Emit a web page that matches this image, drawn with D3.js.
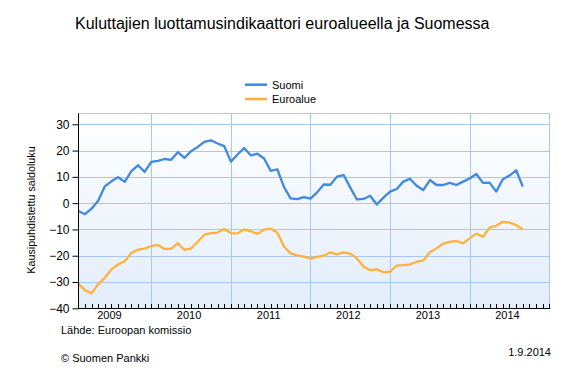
<!DOCTYPE html>
<html>
<head>
<meta charset="utf-8">
<script src="https://cdn.jsdelivr.net/npm/d3@7"></script>
<style>
  html, body { margin: 0; padding: 0; background: #ffffff; }
  svg { display: block; font-family: "Liberation Sans", Arial, sans-serif; }
</style>
</head>
<body>
<svg id="chart" width="567" height="378"></svg>
<script>
// ---- data (monthly, Jan 2009 .. Aug 2014) ----
const yearLabels = ["2009", "2010", "2011", "2012", "2013", "2014"];
const yTicks = [30, 20, 10, 0, -10, -20, -30, -40];
const seriesNames = ["Suomi", "Euroalue"];
const suomi = [
  -3.0, -4.2, -2.1, 0.9, 6.4, 8.3, 9.9, 8.1, 12.2, 14.4, 11.9, 15.7,
  16.1, 16.8, 16.5, 19.4, 17.2, 19.8, 21.4, 23.3, 23.9, 22.7, 21.7, 15.8,
  18.5, 21.0, 18.2, 18.8, 17.0, 12.3, 12.9, 6.2, 1.8, 1.5, 2.3, 1.7,
  4.1, 7.1, 7.0, 10.1, 10.7, 5.9, 1.4, 1.6, 2.8, -0.5, 2.1, 4.4,
  5.4, 8.2, 9.3, 6.6, 5.0, 8.8, 6.9, 6.9, 7.7, 6.9, 8.2, 9.4,
  11.1, 7.7, 7.8, 4.4, 9.1, 10.5, 12.5, 6.3
];
const euroalue = [
  -30.6, -33.1, -34.3, -30.8, -28.4, -25.2, -23.3, -22.1, -19.0, -17.7, -17.3, -16.3,
  -15.9, -17.4, -17.4, -15.2, -17.8, -17.2, -14.7, -12.0, -11.4, -11.2, -9.8, -11.4,
  -11.5, -10.0, -10.7, -11.7, -10.1, -9.7, -11.2, -16.5, -19.1, -19.9, -20.3, -21.0,
  -20.4, -20.0, -18.7, -19.5, -18.7, -19.2, -21.0, -24.2, -25.5, -25.2, -26.3, -26.1,
  -23.8, -23.6, -23.3, -22.3, -21.8, -18.7, -17.2, -15.4, -14.7, -14.4, -15.3, -13.4,
  -11.6, -12.8, -9.3, -8.6, -7.1, -7.4, -8.3, -10.0
];
const colors = ["#3f88e4", "#ffb13d"];
const titleText = "Kuluttajien luottamusindikaattori euroalueella ja Suomessa";
const yTitle = "Kausipuhdistettu saldoluku";
const sourceText = "Lähde: Euroopan komissio";
const copyText = "© Suomen Pankki";
const dateText = "1.9.2014";

// ---- layout ----
const svg = d3.select("#chart");
const L = 78.3, R = 549.3, T = 113.3, B = 308.3;
const nMonths = 72; // Jan 2009 .. Dec 2014
const x = d3.scaleLinear().domain([0, nMonths - 1]).range([L, R]);
const y = d3.scaleLinear().domain([-40, 30]).range([B, 124.3]);

// background gradient
const defs = svg.append("defs");
const grad = defs.append("linearGradient").attr("id", "bg").attr("x1", 0).attr("y1", 0).attr("x2", 0).attr("y2", 1);
grad.append("stop").attr("offset", "0%").attr("stop-color", "#ffffff");
grad.append("stop").attr("offset", "100%").attr("stop-color", "#e2edfa");
svg.append("rect").attr("x", L).attr("y", T).attr("width", R - L).attr("height", B - T).attr("fill", "url(#bg)");

const gridColor = "#a6c8f2";
// horizontal grid
svg.append("g").selectAll("line").data(yTicks.filter(v => v > -40)).join("line")
  .attr("x1", L).attr("x2", R)
  .attr("y1", d => Math.round(y(d)) + 0.5).attr("y2", d => Math.round(y(d)) + 0.5)
  .attr("stroke", gridColor).attr("stroke-width", 1);
// vertical grid (year boundaries)
const yearBounds = yearLabels.map((d, i) => 11 + 12 * i).filter(k => k < nMonths - 1);
svg.append("g").selectAll("line").data(yearBounds).join("line")
  .attr("x1", d => Math.round(x(d)) + 0.5).attr("x2", d => Math.round(x(d)) + 0.5)
  .attr("y1", T).attr("y2", B)
  .attr("stroke", gridColor).attr("stroke-width", 1);
// top & right border
svg.append("line").attr("x1", L).attr("x2", R).attr("y1", Math.round(T) + 0.5).attr("y2", Math.round(T) + 0.5).attr("stroke", gridColor);
svg.append("line").attr("x1", Math.round(R) + 0.5).attr("x2", Math.round(R) + 0.5).attr("y1", T).attr("y2", B).attr("stroke", gridColor);

// series lines
const line = d3.line().x((d, i) => x(i)).y(d => y(d));
[suomi, euroalue].forEach((s, i) => {
  svg.append("path").datum(s).attr("d", line)
    .attr("fill", "none").attr("stroke", colors[i]).attr("stroke-width", 2.3)
    .attr("stroke-linejoin", "round");
});

// y axis
const yAxis = d3.axisLeft(y).tickValues(yTicks).tickSize(6).tickPadding(3).tickFormat(d3.format("d"));
const gy = svg.append("g").attr("transform", `translate(${Math.round(L) + 0.5},0)`).call(yAxis);
gy.select(".domain").remove();
gy.selectAll(".tick line").attr("stroke", "#000");
gy.selectAll(".tick text").attr("font-size", 12).attr("font-family", "Liberation Sans, Arial, sans-serif").attr("fill", "#000");
svg.append("line").attr("x1", Math.round(L) + 0.5).attr("x2", Math.round(L) + 0.5).attr("y1", T).attr("y2", B + 0.5).attr("stroke", "#000");

// x axis
svg.append("line").attr("x1", L).attr("x2", R + 1).attr("y1", Math.round(B) + 0.5).attr("y2", Math.round(B) + 0.5).attr("stroke", "#000");
const monthTicks = d3.range(1, nMonths);
svg.append("g").selectAll("line").data(monthTicks).join("line")
  .attr("x1", d => Math.round(x(d)) + 0.5).attr("x2", d => Math.round(x(d)) + 0.5)
  .attr("y1", Math.round(B)).attr("y2", Math.round(B) - 4)
  .attr("stroke", "#000");
svg.append("g").selectAll("text").data(yearLabels).join("text")
  .attr("x", (d, i) => x(4.7 + 12 * i)).attr("y", 318.5)
  .attr("text-anchor", "middle").attr("font-size", 11).attr("fill", "#000")
  .text(d => d);

// y title
svg.append("text").attr("transform", "translate(35,210) rotate(-90)")
  .attr("text-anchor", "middle").attr("font-size", 10.7).attr("fill", "#000").text(yTitle);

// title
svg.append("text").attr("x", 75).attr("y", 28.5).attr("font-size", 16).attr("fill", "#000").text(titleText);

// legend
const lg = svg.append("g");
seriesNames.forEach((n, i) => {
  const ly = 84.7 + i * 14.3;
  lg.append("line").attr("x1", 245).attr("x2", 267).attr("y1", ly).attr("y2", ly)
    .attr("stroke", colors[i]).attr("stroke-width", 2.5);
  lg.append("text").attr("x", 272).attr("y", ly + 4).attr("font-size", 11).attr("fill", "#000").text(n);
});

// footer
svg.append("text").attr("x", 61).attr("y", 334.3).attr("font-size", 11).attr("fill", "#000").text(sourceText);
svg.append("text").attr("x", 61).attr("y", 362).attr("font-size", 11).attr("fill", "#000").text(copyText);
svg.append("text").attr("x", 551).attr("y", 356).attr("text-anchor", "end").attr("font-size", 11).attr("fill", "#000").text(dateText);
</script>
</body>
</html>
